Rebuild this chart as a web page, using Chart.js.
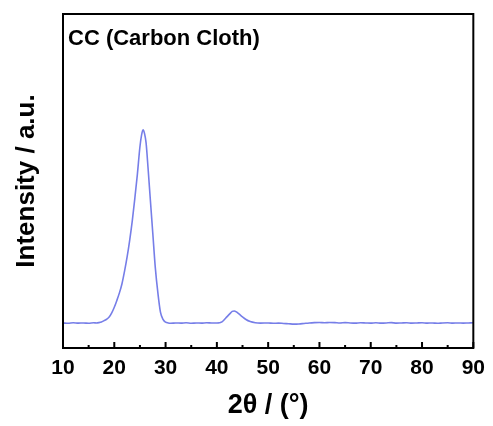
<!DOCTYPE html>
<html>
<head>
<meta charset="utf-8">
<script src="https://cdn.jsdelivr.net/npm/chart.js@4/dist/chart.umd.min.js"></script>
<style>
  html, body { margin: 0; padding: 0; background: #fff; }
  #wrap { width: 493px; height: 426px; position: relative; }
</style>
</head>
<body>
<div id="wrap"><canvas id="c" width="493" height="426"></canvas></div>
<script>
const chartTitle = 'CC (Carbon Cloth)';
const xTitle = '2θ / (°)';
const yTitle = 'Intensity / a.u.';
const xMin = 10, xMax = 90, xStep = 5;
const yMin = 0, yMax = 2000;

const twoTheta = [
  10, 11, 12, 13, 14, 15, 16, 16.5, 17, 17.5, 18, 18.5, 19, 19.5, 20, 20.5, 21, 21.5, 22, 22.5,
  23, 23.5, 24, 24.5, 25, 25.3, 25.6, 25.9, 26.2, 26.6, 27, 27.5, 28, 28.5, 29, 29.5, 30, 30.5,
  31, 32, 33, 34, 35, 36, 37, 38, 39, 40, 40.5, 41, 41.7, 42.5, 43, 43.4, 43.8, 44.3, 45, 45.6,
  46.5, 47.5, 48.5, 50, 51, 52, 53, 54, 55, 56, 57, 58, 59, 60, 61, 62, 63, 64, 65, 66, 67, 68,
  69, 70, 71, 72, 73, 74, 75, 76, 77, 78, 79, 80, 81, 82, 83, 84, 85, 86, 87, 88, 89, 90
];
const intensity = [
  150, 148, 151, 149, 150, 148, 151, 150, 152, 156, 164, 172, 185, 210, 244, 285, 330, 385, 460, 545,
  645, 760, 895, 1040, 1205, 1272, 1306, 1284, 1228, 1070, 900, 690, 480, 330, 215, 172, 155, 150,
  148, 150, 149, 151, 148, 150, 149, 151, 150, 150, 151, 156, 178, 204, 219, 222, 216, 204, 186, 172,
  158, 151, 149, 150, 148, 149, 147, 145, 143, 144, 147, 150, 152, 153, 151, 153, 152, 150, 152, 150, 149, 151,
  150, 149, 151, 149, 150, 152, 149, 150, 151, 149, 150, 151, 149, 150, 148, 150, 151, 149, 150, 149, 150, 151
];

const FONT = "'Liberation Sans', Arial, sans-serif";

const framePlugin = {
  id: 'frame',
  afterDatasetsDraw(chart) {
    const { ctx, chartArea: a, scales: { x } } = chart;
    ctx.save();
    ctx.strokeStyle = '#000';
    ctx.lineWidth = 2;
    ctx.beginPath();
    x.ticks.forEach(t => {
      const px = x.getPixelForValue(t.value);
      const len = (t.value % 10 === 0) ? 6 : 3;
      ctx.moveTo(px, a.bottom);
      ctx.lineTo(px, a.bottom - len);
    });
    ctx.stroke();
    ctx.strokeRect(a.left, a.top, a.right - a.left, a.bottom - a.top);
    ctx.fillStyle = '#000';
    ctx.font = 'bold 22px ' + FONT;
    ctx.textBaseline = 'alphabetic';
    ctx.textAlign = 'left';
    ctx.fillText(chartTitle, a.left + 5, a.top + 31);
    ctx.restore();
  }
};

new Chart(document.getElementById('c'), {
  type: 'line',
  data: {
    datasets: [{
      data: twoTheta.map((t, i) => ({ x: t, y: intensity[i] })),
      borderColor: 'rgb(118,126,232)',
      borderWidth: 1.6,
      pointRadius: 0,
      fill: false,
      cubicInterpolationMode: 'monotone'
    }]
  },
  options: {
    responsive: false,
    animation: false,
    layout: { padding: { top: 14, right: 17, left: 0, bottom: 0 } },
    plugins: { legend: { display: false }, tooltip: { enabled: false } },
    scales: {
      x: {
        type: 'linear',
        min: xMin, max: xMax,
        grid: { display: false, drawTicks: false },
        border: { display: false },
        ticks: {
          stepSize: xStep,
          autoSkip: false,
          maxRotation: 0,
          padding: 8,
          color: '#000',
          font: { family: FONT, size: 21, weight: 'bold' },
          callback: v => (v % 10 === 0 ? String(v) : '')
        },
        title: {
          display: true, text: xTitle, color: '#000',
          font: { family: FONT, size: 27, weight: 'bold' },
          padding: { top: 0, bottom: 4 }
        },
        afterFit: s => { s.height = 78; }
      },
      y: {
        min: yMin, max: yMax,
        grid: { display: false, drawTicks: false },
        border: { display: false },
        ticks: { display: false },
        title: {
          display: true, text: yTitle, color: '#000',
          font: { family: FONT, size: 26, weight: 'bold' },
          padding: { top: 11, bottom: 0 }
        },
        afterFit: s => { s.width = 63; }
      }
    }
  },
  plugins: [framePlugin]
});
</script>
</body>
</html>
